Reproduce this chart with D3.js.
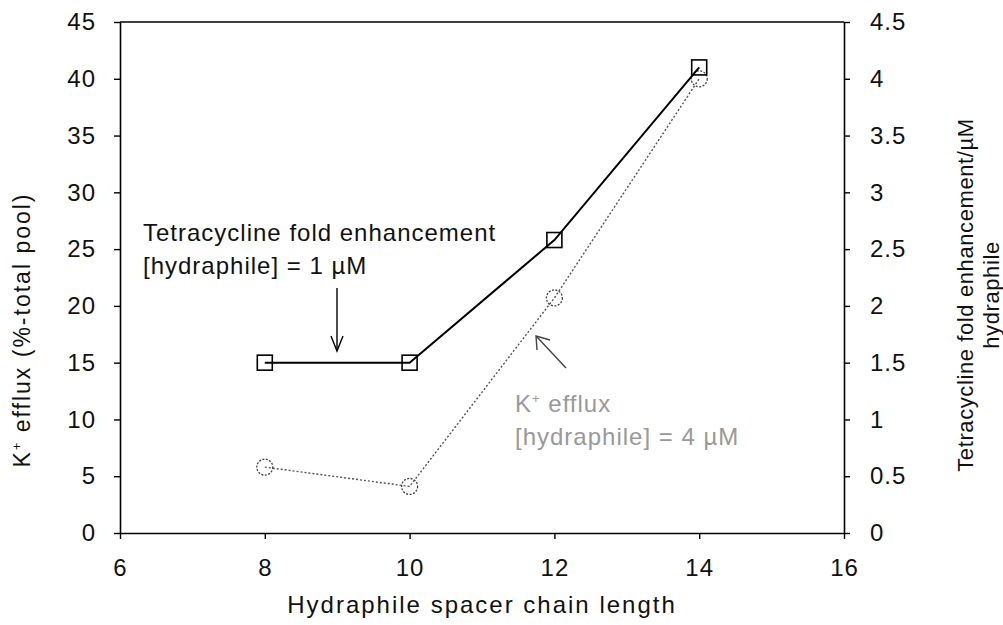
<!DOCTYPE html>
<html><head><meta charset="utf-8">
<script src="https://cdn.jsdelivr.net/npm/d3@7"></script>
<style>body{margin:0;background:#fff;} text{font-family:"Liberation Sans",Arial,sans-serif;}</style>
</head><body><svg id="c" width="1003" height="625"></svg>
<script>
const chainLength = [8, 10, 12, 14];
const kEfflux = [5.8, 4.1, 20.7, 40.0];          // left axis, %
const tetraFold = [1.5, 1.5, 2.58, 4.1];          // right axis
const xTicks = [6, 8, 10, 12, 14, 16];
const yLeftTicks = [0, 5, 10, 15, 20, 25, 30, 35, 40, 45];
const yRightTicks = [0, 0.5, 1, 1.5, 2, 2.5, 3, 3.5, 4, 4.5];

const svg = d3.select("#c");
const L = 120, R = 844, T = 22, B = 533;
const x = d3.scaleLinear().domain([6, 16]).range([L, R]);
const yL = d3.scaleLinear().domain([0, 45]).range([B, T]);
const yR = d3.scaleLinear().domain([0, 4.5]).range([B, T]);

const fs = 24;
function styleAxis(g) {
  g.select(".domain").attr("stroke", "#000").attr("stroke-width", 1.6);
  g.selectAll(".tick line").attr("stroke", "#000").attr("stroke-width", 1.4);
  g.selectAll(".tick text").attr("font-size", fs).attr("fill", "#111")
    .attr("letter-spacing", 1)
    .style("font-family", '"Liberation Sans",Arial,sans-serif');
}
svg.append("g").attr("transform", `translate(0,${B})`)
  .call(d3.axisBottom(x).tickValues(xTicks).tickSize(6).tickSizeOuter(0).tickPadding(20))
  .call(styleAxis);
svg.append("g").attr("transform", `translate(${L},0)`)
  .call(d3.axisLeft(yL).tickValues(yLeftTicks).tickSize(6).tickSizeOuter(0).tickPadding(18))
  .call(styleAxis);
svg.append("g").attr("transform", `translate(${R},0)`)
  .call(d3.axisRight(yR).tickValues(yRightTicks).tickFormat(d => String(d)).tickSize(6).tickSizeOuter(0).tickPadding(20))
  .call(styleAxis);
svg.append("line").attr("x1", L).attr("x2", R).attr("y1", T).attr("y2", T)
  .attr("stroke", "#000").attr("stroke-width", 1.6);

// K+ efflux series (dotted grey)
const kData = chainLength.map((c, i) => [c, kEfflux[i]]);
svg.append("path").datum(kData)
  .attr("d", d3.line().x(d => x(d[0])).y(d => yL(d[1])))
  .attr("fill", "none").attr("stroke", "#555").attr("stroke-width", 1.4).attr("stroke-dasharray", "2,2");
svg.selectAll("circle.k").data(kData).enter().append("circle")
  .attr("cx", d => x(d[0])).attr("cy", d => yL(d[1])).attr("r", 8)
  .attr("fill", "none").attr("stroke", "#444").attr("stroke-width", 1.3).attr("stroke-dasharray", "2,1.5");

// Tetracycline series (solid black)
const tData = chainLength.map((c, i) => [c, tetraFold[i]]);
svg.append("path").datum(tData)
  .attr("d", d3.line().x(d => x(d[0])).y(d => yR(d[1])))
  .attr("fill", "none").attr("stroke", "#000").attr("stroke-width", 2);
svg.selectAll("rect.t").data(tData).enter().append("rect")
  .attr("x", d => x(d[0]) - 7.5).attr("y", d => yR(d[1]) - 7.5)
  .attr("width", 15).attr("height", 15)
  .attr("fill", "none").attr("stroke", "#000").attr("stroke-width", 1.6);

// Axis titles
svg.append("text").attr("x", x(11)).attr("y", 613).attr("text-anchor", "middle")
  .attr("font-size", 24).attr("letter-spacing", 2).attr("fill", "#111").text("Hydraphile spacer chain length");
const lt = svg.append("text").attr("transform", "translate(30,330) rotate(-90)")
  .attr("text-anchor", "middle").attr("font-size", 23).attr("letter-spacing", 2).attr("fill", "#111");
lt.append("tspan").text("K");
lt.append("tspan").attr("font-size", 13).attr("dy", -9).text("+");
lt.append("tspan").attr("dy", 9).text(" efflux (%-total pool)");
svg.append("text").attr("transform", "translate(973,295) rotate(-90)")
  .attr("text-anchor", "middle").attr("font-size", 22).attr("letter-spacing", 0.6).attr("fill", "#111")
  .text("Tetracycline fold enhancement/µM");
svg.append("text").attr("transform", "translate(999,295) rotate(-90)")
  .attr("text-anchor", "middle").attr("font-size", 22).attr("letter-spacing", 0.6).attr("fill", "#111")
  .text("hydraphile");

// Annotations
svg.append("text").attr("x", 143).attr("y", 241).attr("font-size", 24).attr("letter-spacing", 1).attr("fill", "#111")
  .text("Tetracycline fold enhancement");
svg.append("text").attr("x", 143).attr("y", 274).attr("font-size", 24).attr("letter-spacing", 1).attr("fill", "#111")
  .text("[hydraphile] = 1 µM");
svg.append("line").attr("x1", 337).attr("y1", 288).attr("x2", 337).attr("y2", 350)
  .attr("stroke", "#000").attr("stroke-width", 1.4);
svg.append("path").attr("d", "M331,336 L337,351 L343,336").attr("fill", "none")
  .attr("stroke", "#000").attr("stroke-width", 1.4);

const ka = svg.append("text").attr("x", 515).attr("y", 412).attr("font-size", 24).attr("letter-spacing", 1).attr("fill", "#999");
ka.append("tspan").text("K");
ka.append("tspan").attr("font-size", 13).attr("dy", -9).text("+");
ka.append("tspan").attr("dy", 9).text(" efflux");
svg.append("text").attr("x", 515).attr("y", 445).attr("font-size", 24).attr("letter-spacing", 1).attr("fill", "#999")
  .text("[hydraphile] = 4 µM");
svg.append("line").attr("x1", 566).attr("y1", 368).attr("x2", 537).attr("y2", 337)
  .attr("stroke", "#444").attr("stroke-width", 1.4);
svg.append("path").attr("d", "M537,350 L536,336 L550,340").attr("fill", "none")
  .attr("stroke", "#444").attr("stroke-width", 1.4);
</script></body></html>
